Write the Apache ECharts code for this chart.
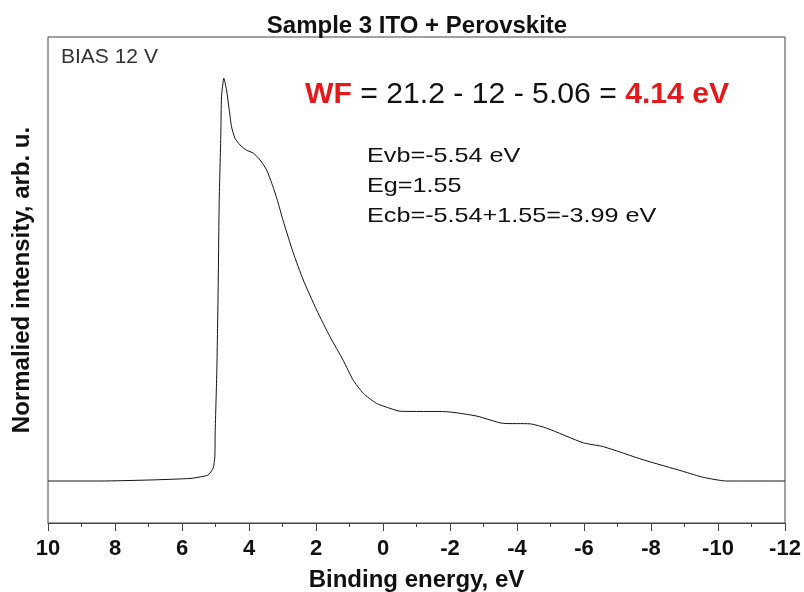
<!DOCTYPE html>
<html><head><meta charset="utf-8">
<script src="https://cdn.jsdelivr.net/npm/echarts@6/dist/echarts.min.js"></script>
<style>html,body{margin:0;padding:0;background:#fff}#c{width:804px;height:592px}</style>
</head><body><div id="c"></div>
<script>
const energy = [10.0, 8.45, 6.96, 5.76, 5.46, 5.22, 5.07, 5.02, 5.01, 4.96, 4.92, 4.89, 4.84, 4.82, 4.75, 4.67, 4.59, 4.52, 4.42, 4.27, 4.07, 3.87, 3.67, 3.47, 3.32, 3.17, 2.98, 2.68, 2.38, 1.98, 1.58, 1.19, 0.89, 0.59, 0.19, -0.21, -0.51, -1.90, -2.80, -3.59, -4.39, -4.89, -5.98, -6.58, -7.77, -8.97, -9.56, -10.26, -12.0];
const intensity = [0.0864, 0.0864, 0.0885, 0.0916, 0.0947, 0.0988, 0.113, 0.136, 0.185, 0.315, 0.486, 0.661, 0.802, 0.877, 0.915, 0.891, 0.850, 0.815, 0.792, 0.778, 0.767, 0.761, 0.747, 0.726, 0.699, 0.668, 0.622, 0.556, 0.500, 0.438, 0.383, 0.335, 0.294, 0.267, 0.246, 0.236, 0.230, 0.229, 0.220, 0.205, 0.204, 0.195, 0.165, 0.157, 0.130, 0.106, 0.094, 0.0864, 0.0864];
const titleText = 'Sample 3 ITO + Perovskite';
const xName = 'Binding energy, eV';
const yName = 'Normalied intensity, arb. u.';
const biasText = 'BIAS 12 V';
const notes = ['Evb=-5.54 eV', 'Eg=1.55', 'Ecb=-5.54+1.55=-3.99 eV'];

const F = 'Arial, "Liberation Sans", sans-serif';
const pts = energy.map((e, i) => [e, intensity[i]]).sort((a, b) => a[0] - b[0]);
const chart = echarts.init(document.getElementById('c'));
chart.setOption({
  animation: false,
  backgroundColor: '#fff',
  title: {
    text: titleText, left: 412, top: 9, textAlign: 'center',
    textStyle: {fontFamily: F, fontWeight: 'bold', fontSize: 24, color: '#111'}
  },
  grid: {left: 48, right: 19, top: 37, bottom: 69, show: true, borderColor: '#444', borderWidth: 1,
         containLabel: false, outerBoundsMode: 'none'},
  xAxis: {
    type: 'value', min: -12, max: 10, interval: 2, inverse: true,
    name: xName, nameLocation: 'middle', nameGap: 45,
    nameTextStyle: {fontFamily: F, fontWeight: 'bold', fontSize: 24, color: '#111'},
    axisLine: {show: true, onZero: false, lineStyle: {color: '#444', width: 1}},
    axisTick: {show: true, inside: false, length: 8, lineStyle: {color: '#444'}},
    minorTick: {show: true, splitNumber: 2, length: 4, lineStyle: {color: '#444'}},
    axisLabel: {fontFamily: F, fontWeight: 'bold', fontSize: 22, color: '#111', margin: 15},
    splitLine: {show: false}
  },
  yAxis: {
    type: 'value', min: 0, max: 1,
    name: yName, nameLocation: 'middle', nameGap: 14, nameRotate: 90,
    nameTextStyle: {fontFamily: F, fontWeight: 'bold', fontSize: 24, color: '#111'},
    axisLine: {show: false, onZero: false},
    axisTick: {show: false}, axisLabel: {show: false}, splitLine: {show: false}
  },
  series: [{
    type: 'line', data: pts,
    showSymbol: false, smooth: 0.2,
    lineStyle: {color: '#111', width: 1}
  }],
  graphic: [
    {type: 'text', x: 61, y: 47, scaleX: 1.05, style: {text: biasText, font: '20px ' + F, fill: '#333'}},
    {type: 'text', x: 305, y: 80, scaleX: 1.04, style: {
      text: '{r|WF} = 21.2 - 12 - 5.06 = {r|4.14 eV}',
      font: '29px ' + F, fill: '#111',
      rich: {r: {fontFamily: F, fontWeight: 'bold', fontSize: 29, fill: '#e3191b'}}
    }},
    {type: 'text', x: 367, y: 146, scaleX: 1.2, style: {text: notes[0], font: '21px ' + F, fill: '#111'}},
    {type: 'text', x: 367, y: 176, scaleX: 1.2, style: {text: notes[1], font: '21px ' + F, fill: '#111'}},
    {type: 'text', x: 367, y: 206, scaleX: 1.2, style: {text: notes[2], font: '21px ' + F, fill: '#111'}}
  ]
});
</script></body></html>
